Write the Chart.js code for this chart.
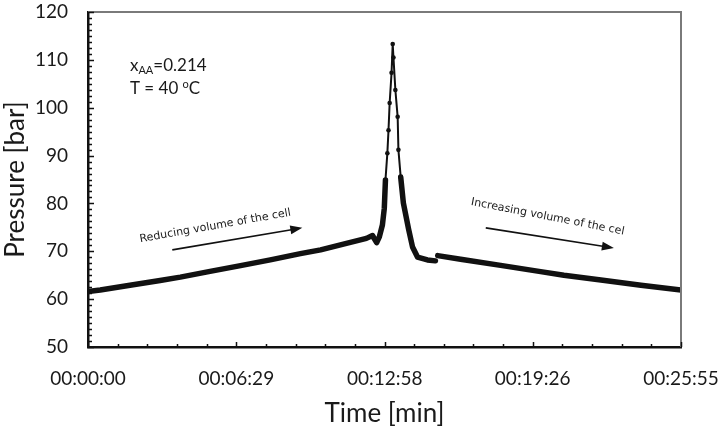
<!DOCTYPE html>
<html>
<head>
<meta charset="utf-8">
<script src="https://cdn.jsdelivr.net/npm/chart.js@4/dist/chart.umd.min.js"></script>
<style>
  html, body { margin: 0; padding: 0; background: #fff; }
  #wrap { width: 725px; height: 430px; }
</style>
</head>
<body>
<div id="wrap"><canvas id="pressureChart" width="725" height="430"></canvas></div>
<script>
// --- data (time in seconds, pressure in bar) ---
const times = [0, 32, 110, 189, 242, 320, 400, 478, 557, 610,
  675, 730, 746, 757, 764, 772, 777, 780, 785, 788,
  791, 796, 799, 801, 806, 812, 814, 820, 827, 841,
  851, 864, 890, 911, 914, 917, 977, 1082, 1187, 1248,
  1345, 1450, 1555];
const pressures = [61.6, 61.9, 62.9, 63.9, 64.6, 65.8, 67.0, 68.2, 69.5, 70.3,
  71.6, 72.7, 73.3, 71.8, 73.0, 75.5, 79.0, 84.9, 90.5, 95.3,
  101.0, 107.3, 113.3, 110.5, 103.7, 98.1, 91.2, 85.5, 80.1, 74.5,
  70.9, 68.8, 68.2, 68.0, null, 69.1, 68.35, 67.05, 65.75, 65.0,
  64.0, 62.9, 61.9];

// axis ticks
const timeTicks = [0, 389, 778, 1166, 1555];
const timeLabels = ['00:00:00', '00:06:29', '00:12:58', '00:19:26', '00:25:55'];
const pressureMin = 50, pressureMax = 120, pressureStep = 10;

// notes on the plot, anchored in data units [time, pressure]
const noteComp = [110, 107.7];
const noteTemp = [110, 102.9];
const reduceText = { at: [137, 71.9], angle: -10, text: 'Reducing volume of the cell' };
const reduceArrow = [[221, 70.3], [562, 74.9]];
const increaseText = { at: [1003, 79.7], angle: 11, text: 'Increasing volume of the cel' };
const increaseArrow = [[1043, 74.9], [1379, 70.7]];

const points = times.map((t, i) => ({ x: t, y: pressures[i] }));

function drawArrow(ctx, x0, y0, x1, y1) {
  const a = Math.atan2(y1 - y0, x1 - x0);
  ctx.save();
  ctx.strokeStyle = '#111';
  ctx.fillStyle = '#111';
  ctx.lineWidth = 1.6;
  ctx.beginPath();
  ctx.moveTo(x0, y0);
  ctx.lineTo(x1 - 8 * Math.cos(a), y1 - 8 * Math.sin(a));
  ctx.stroke();
  ctx.translate(x1, y1);
  ctx.rotate(a);
  ctx.beginPath();
  ctx.moveTo(0, 0);
  ctx.lineTo(-12, -4.5);
  ctx.lineTo(-12, 4.5);
  ctx.closePath();
  ctx.fill();
  ctx.restore();
}

// frame, minor ticks and the text notes
const decor = {
  id: 'decor',
  afterDraw(chart) {
    const { ctx, chartArea: area, scales: { x, y } } = chart;
    ctx.save();
    // grey frame top + right
    ctx.strokeStyle = '#7a7a7a';
    ctx.lineWidth = 2;
    ctx.beginPath();
    ctx.moveTo(area.left, area.top);
    ctx.lineTo(area.right, area.top);
    ctx.lineTo(area.right, area.bottom);
    ctx.stroke();

    // ticks pointing inward
    ctx.strokeStyle = '#111';
    ctx.lineWidth = 1.5;
    ctx.beginPath();
    for (let v = pressureMin; v <= pressureMax; v += pressureStep / 8) {
      const py = Math.round(y.getPixelForValue(v)) + 0.5;
      const len = (v - pressureMin) % pressureStep === 0 ? 6 : 4;
      ctx.moveTo(area.left, py);
      ctx.lineTo(area.left + len, py);
    }
    for (let i = 0; i < timeTicks.length - 1; i++) {
      const step = (timeTicks[i + 1] - timeTicks[i]) / 5;
      for (let k = 0; k <= 5; k++) {
        const px = Math.round(x.getPixelForValue(timeTicks[i] + k * step)) + 0.5;
        const len = k === 0 || k === 5 ? 5 : 3;
        ctx.moveTo(px, area.bottom);
        ctx.lineTo(px, area.bottom - len);
      }
    }
    ctx.stroke();

    // composition / temperature note
    ctx.fillStyle = '#1a1a1a';
    ctx.textBaseline = 'alphabetic';
    let nx = x.getPixelForValue(noteComp[0]);
    let ny = y.getPixelForValue(noteComp[1]);
    ctx.font = '17px Lato';
    ctx.fillText('x', nx, ny);
    nx += ctx.measureText('x').width;
    ctx.font = '11px Lato';
    ctx.fillText('AA', nx, ny + 3);
    nx += ctx.measureText('AA').width;
    ctx.font = '17px Lato';
    ctx.fillText('=0.214', nx, ny);

    nx = x.getPixelForValue(noteTemp[0]);
    ny = y.getPixelForValue(noteTemp[1]);
    ctx.fillText('T = 40 ', nx, ny);
    nx += ctx.measureText('T = 40 ').width;
    ctx.font = '11px Lato';
    ctx.fillText('o', nx, ny - 6);
    nx += ctx.measureText('o').width;
    ctx.font = '17px Lato';
    ctx.fillText('C', nx, ny);

    // rotated notes and arrows
    ctx.font = '11px "DejaVu Sans"';
    [reduceText, increaseText].forEach(n => {
      ctx.save();
      ctx.translate(x.getPixelForValue(n.at[0]), y.getPixelForValue(n.at[1]));
      ctx.rotate(n.angle * Math.PI / 180);
      ctx.fillText(n.text, 0, 0);
      ctx.restore();
    });
    [reduceArrow, increaseArrow].forEach(a => {
      drawArrow(ctx,
        x.getPixelForValue(a[0][0]), y.getPixelForValue(a[0][1]),
        x.getPixelForValue(a[1][0]), y.getPixelForValue(a[1][1]));
    });
    ctx.restore();
  }
};

const peakLevel = 82;

new Chart(document.getElementById('pressureChart'), {
  type: 'line',
  data: {
    datasets: [{
      data: points,
      borderColor: '#111',
      backgroundColor: '#111',
      borderWidth: 6,
      borderJoinStyle: 'round',
      borderCapStyle: 'round',
      spanGaps: false,
      tension: 0,
      pointRadius: c => (c.raw && c.raw.y > 80 ? 2.3 : 0),
      pointBorderWidth: 0,
      segment: {
        borderWidth: c => (c.p0.parsed.y > peakLevel && c.p1.parsed.y > peakLevel ? 2 : 5.5)
      }
    }]
  },
  options: {
    responsive: false,
    devicePixelRatio: 1,
    animation: false,
    layout: { autoPadding: false, padding: { top: 12, right: 44, left: 0, bottom: 0 } },
    plugins: { legend: { display: false }, tooltip: { enabled: false } },
    scales: {
      x: {
        type: 'linear',
        min: 0,
        max: timeTicks[timeTicks.length - 1],
        afterBuildTicks: s => { s.ticks = timeTicks.map(v => ({ value: v })); },
        afterFit: s => { s.height = 83; s.paddingLeft = 0; s.paddingRight = 0; },
        grid: { display: false, drawTicks: false },
        border: { display: true, color: '#111', width: 2.5 },
        ticks: {
          padding: 20,
          maxRotation: 0,
          autoSkip: false,
          color: '#1a1a1a',
          font: { family: 'Lato', size: 19 },
          callback: (v) => timeLabels[timeTicks.indexOf(v)]
        },
        title: {
          display: true,
          text: 'Time [min]',
          color: '#1a1a1a',
          font: { family: 'Lato', size: 26 },
          padding: { top: 0, bottom: 1 }
        }
      },
      y: {
        min: pressureMin,
        max: pressureMax,
        afterFit: s => { s.width = 88; s.paddingTop = 0; s.paddingBottom = 0; },
        grid: { display: false, drawTicks: false },
        border: { display: true, color: '#111', width: 2.5 },
        ticks: {
          stepSize: pressureStep,
          padding: 20,
          color: '#1a1a1a',
          font: { family: 'Lato', size: 19 }
        },
        title: {
          display: true,
          text: 'Pressure [bar]',
          color: '#1a1a1a',
          font: { family: 'Lato', size: 26 },
          padding: { top: 0, bottom: 0 }
        }
      }
    }
  },
  plugins: [decor]
});
</script>
</body>
</html>
